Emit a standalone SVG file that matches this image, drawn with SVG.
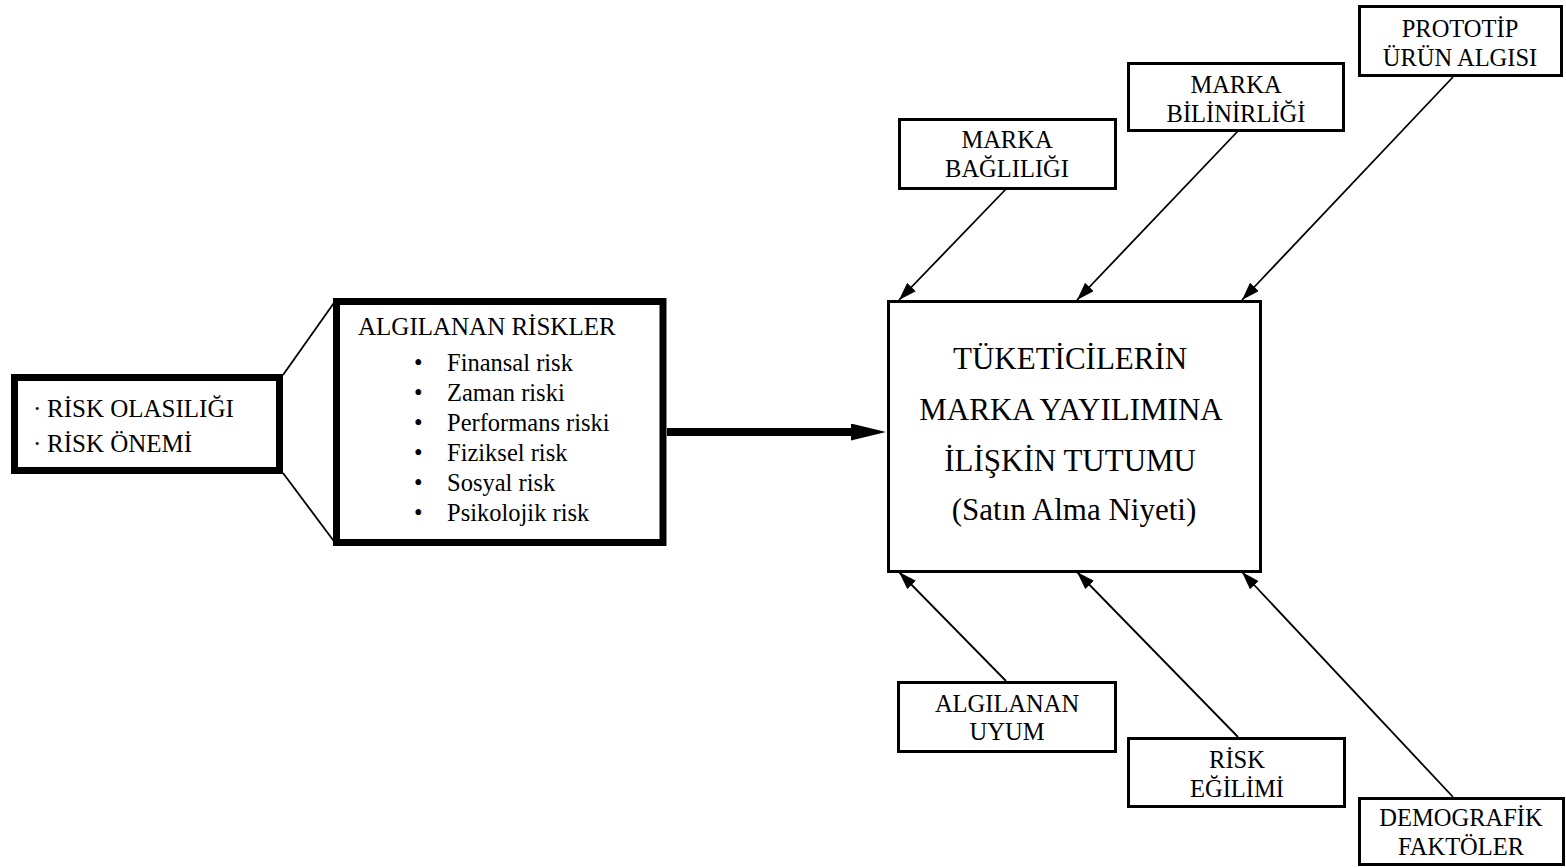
<svg xmlns="http://www.w3.org/2000/svg" width="1566" height="868" viewBox="0 0 1566 868">
  <style>
    text { font-family: "Liberation Serif", "Times New Roman", Times, "DejaVu Serif", serif; fill: #000; }
    .lbl { font-size: 24.5px; text-anchor: middle; }
    .box { fill: #fff; stroke: #000; stroke-width: 3; }
    .thick { fill: #fff; stroke: #000; stroke-width: 7; }
    .conn { stroke: #000; stroke-width: 1.8; fill: none; }
  </style>
  <defs>
    <marker id="arrow" markerUnits="userSpaceOnUse" markerWidth="18" markerHeight="12" refX="18" refY="6" orient="auto">
      <path d="M0,0 L18,6 L0,12 z" fill="#000"/>
    </marker>
    <marker id="arrowBig" markerUnits="userSpaceOnUse" markerWidth="36" markerHeight="18" refX="1" refY="8.5" orient="auto">
      <path d="M0,0 L35,8.5 L0,17 z" fill="#000"/>
    </marker>
  </defs>

  <!-- connectors -->
  <g id="connectors">
    <line class="conn" x1="283" y1="375" x2="336" y2="300"/>
    <line class="conn" x1="283" y1="473" x2="336" y2="544"/>
    <line x1="667" y1="432" x2="852" y2="432" stroke="#000" stroke-width="8" marker-end="url(#arrowBig)"/>
    <line class="conn" x1="1006" y1="189" x2="899" y2="300" marker-end="url(#arrow)"/>
    <line class="conn" x1="1238" y1="131" x2="1077" y2="300" marker-end="url(#arrow)"/>
    <line class="conn" x1="1453" y1="77" x2="1242" y2="300" marker-end="url(#arrow)"/>
    <line class="conn" x1="1006" y1="681" x2="899" y2="572" marker-end="url(#arrow)"/>
    <line class="conn" x1="1238" y1="737" x2="1077" y2="572" marker-end="url(#arrow)"/>
    <line class="conn" x1="1453" y1="797" x2="1242" y2="572" marker-end="url(#arrow)"/>
  </g>

  <!-- risk dimensions -->
  <g id="risk-dimensions">
    <rect class="thick" x="14.5" y="377.5" width="265" height="93"/>
    <text font-size="25"><tspan x="33" y="417">·</tspan><tspan x="47" y="417">RİSK OLASILIĞI</tspan></text>
    <text font-size="25"><tspan x="33" y="452">·</tspan><tspan x="47" y="452">RİSK ÖNEMİ</tspan></text>
  </g>

  <!-- perceived risks -->
  <g id="perceived-risks">
    <rect class="thick" x="336.5" y="301.5" width="326.5" height="241"/>
    <text x="358" y="335" font-size="25">ALGILANAN RİSKLER</text>
    <g font-size="24.5">
      <text x="414" y="371">•</text><text x="447" y="371">Finansal risk</text>
      <text x="414" y="401">•</text><text x="447" y="401">Zaman riski</text>
      <text x="414" y="431">•</text><text x="447" y="431">Performans riski</text>
      <text x="414" y="461">•</text><text x="447" y="461">Fiziksel risk</text>
      <text x="414" y="491">•</text><text x="447" y="491">Sosyal risk</text>
      <text x="414" y="521">•</text><text x="447" y="521">Psikolojik risk</text>
    </g>
  </g>

  <!-- central construct -->
  <g id="attitude">
    <rect class="box" x="888.5" y="301.5" width="372" height="270"/>
    <text x="1074" font-size="31" text-anchor="middle">
      <tspan x="1074" y="369">TÜKETİCİLERİN</tspan>
      <tspan x="1074" y="420">MARKA YAYILIMINA</tspan>
      <tspan x="1074" y="471">İLİŞKİN TUTUMU</tspan>
      <tspan x="1074" y="520">(Satın Alma Niyeti)</tspan>
    </text>
  </g>

  <g id="marka-bagliligi">
    <rect class="box" x="899.5" y="119.5" width="216" height="69"/>
    <text class="lbl"><tspan x="1007" y="148">MARKA</tspan><tspan x="1007" y="177">BAĞLILIĞI</tspan></text>
  </g>

  <g id="marka-bilinirligi">
    <rect class="box" x="1128.5" y="63.5" width="215" height="67"/>
    <text class="lbl"><tspan x="1236" y="93">MARKA</tspan><tspan x="1236" y="122">BİLİNİRLİĞİ</tspan></text>
  </g>

  <g id="prototip">
    <rect class="box" x="1359.5" y="6.5" width="202" height="69"/>
    <text class="lbl"><tspan x="1460" y="37">PROTOTİP</tspan><tspan x="1460" y="66">ÜRÜN ALGISI</tspan></text>
  </g>

  <g id="algilanan-uyum">
    <rect class="box" x="898.5" y="682.5" width="217" height="69"/>
    <text class="lbl"><tspan x="1007" y="712">ALGILANAN</tspan><tspan x="1007" y="740">UYUM</tspan></text>
  </g>

  <g id="risk-egilimi">
    <rect class="box" x="1128.5" y="738.5" width="216" height="68"/>
    <text class="lbl"><tspan x="1237" y="768">RİSK</tspan><tspan x="1237" y="797">EĞİLİMİ</tspan></text>
  </g>

  <g id="demografik">
    <rect class="box" x="1359.5" y="798.5" width="204" height="66"/>
    <text class="lbl"><tspan x="1461" y="826">DEMOGRAFİK</tspan><tspan x="1461" y="855">FAKTÖLER</tspan></text>
  </g>
</svg>
